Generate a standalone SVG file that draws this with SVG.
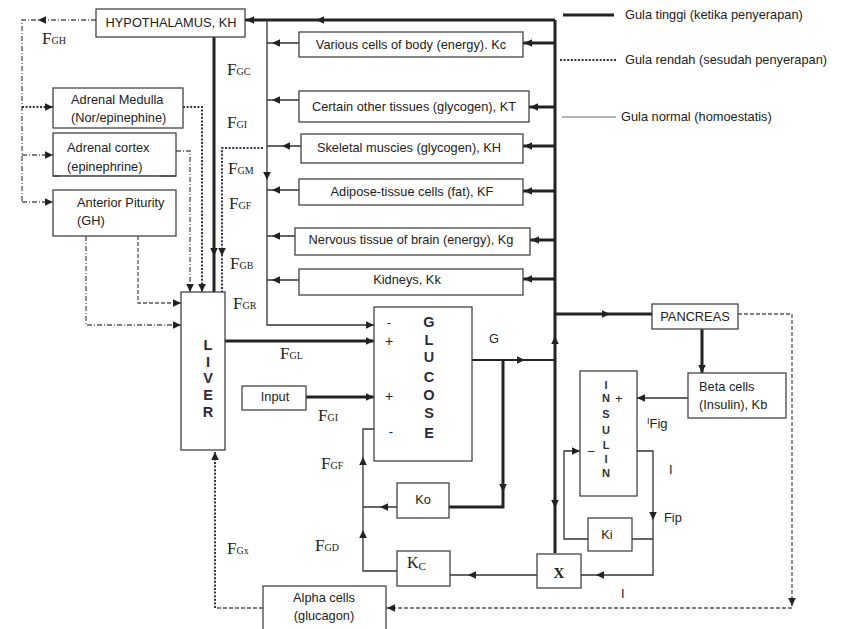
<svg xmlns="http://www.w3.org/2000/svg" width="845" height="629" viewBox="0 0 845 629">
<style>
.box{fill:#fff;stroke:#444;stroke-width:1.3}
.t{font-family:"Liberation Sans",Arial,sans-serif;font-size:12.8px;fill:#222}
.c{text-anchor:middle}
.big{font-family:"Liberation Sans",Arial,sans-serif;font-weight:bold;font-size:14.5px;fill:#2a2a3a;text-anchor:middle}
.ins{font-family:"Liberation Sans",Arial,sans-serif;font-weight:bold;font-size:11px;fill:#333;text-anchor:middle}
.f{font-family:"Liberation Serif","Times New Roman",serif;font-size:17px;fill:#222}
.s{font-size:10px}
.thick{stroke:#222;stroke-width:3;fill:none}
.med{stroke:#222;stroke-width:2;fill:none}
.thin{stroke:#333;stroke-width:1.3;fill:none}
.dot{stroke:#333;stroke-width:2;stroke-dasharray:2,1.6;fill:none}
.dotb{stroke:#335;stroke-width:2;stroke-dasharray:2,1.6;fill:none}
.dash{stroke:#555;stroke-width:1.3;stroke-dasharray:4,2;fill:none}
.dd{stroke:#555;stroke-width:1.3;stroke-dasharray:5,2,1,2;fill:none}
.gray{stroke:#999;stroke-width:1.5;fill:none}
</style>
<defs>
<path id="a" d="M0,0 L-8,-3.8 L-8,3.8 Z" fill="#222"/>
</defs>
<rect width="845" height="629" fill="#fff"/>

<g id="connectors">
<path class="thick" d="M555,20 H245 M555,20 V553"/>
<use href="#a" transform="translate(246,20) rotate(180)"/>
<use href="#a" transform="translate(316,20) rotate(180)"/>
<path class="thick" d="M555,43 H523 M555,107 H529 M555,146 H523 M555,191 H523 M555,240 H530 M555,279 H523"/>
<use href="#a" transform="translate(524,43) rotate(180)"/>
<use href="#a" transform="translate(530,107) rotate(180)"/>
<use href="#a" transform="translate(524,146) rotate(180)"/>
<use href="#a" transform="translate(524,191) rotate(180)"/>
<use href="#a" transform="translate(531,240) rotate(180)"/>
<use href="#a" transform="translate(524,279) rotate(180)"/>
<path class="thin" d="M267,20 V325 H374"/>
<use href="#a" transform="translate(374,325)"/>
<use href="#a" transform="translate(267,180) rotate(90)"/>
<path class="thin" d="M299,43 H267 M299,100 H267 M301,146 H267 M299,190 H267 M295,236 H267 M299,280 H267"/>
<use href="#a" transform="translate(272,43) rotate(180)"/>
<use href="#a" transform="translate(272,100) rotate(180)"/>
<use href="#a" transform="translate(282,146) rotate(180)"/>
<use href="#a" transform="translate(272,190) rotate(180)"/>
<use href="#a" transform="translate(272,236) rotate(180)"/>
<use href="#a" transform="translate(272,280) rotate(180)"/>
<path class="thick" d="M214,37 V292"/>
<use href="#a" transform="translate(214,256) rotate(90)"/>
<path class="dotb" d="M263,148 H222 V292"/>
<use href="#a" transform="translate(222,256) rotate(90)"/>
<path class="dot" d="M183,107 H202 V292"/>
<use href="#a" transform="translate(202,292) rotate(90)"/>
<path class="dd" d="M176,151 H190 V292"/>
<use href="#a" transform="translate(190,292) rotate(90)"/>
<path class="dash" d="M138,236 V303 H181"/>
<use href="#a" transform="translate(181,303)"/>
<path class="dd" d="M86,236 V325 H181"/>
<use href="#a" transform="translate(181,325)"/>
<path class="dd" d="M96,20 H22 V202 M22,155 H53 M22,202 H53"/>
<path class="dot" d="M22,107 H53"/>
<use href="#a" transform="translate(38,20) rotate(180)"/>
<use href="#a" transform="translate(53,107)"/>
<use href="#a" transform="translate(53,155)"/>
<use href="#a" transform="translate(53,202)"/>
<path class="thick" d="M225,341 H374 M306,397 H374"/>
<use href="#a" transform="translate(374,341)"/>
<use href="#a" transform="translate(374,397)"/>
<path class="med" d="M472,360 H555"/>
<use href="#a" transform="translate(525,360)"/>
<path class="thick" d="M503,360 V507 H449"/>
<use href="#a" transform="translate(503,492) rotate(90)"/>
<path class="thin" d="M397,507 H363 M397,571 H363 V429 H374"/>
<use href="#a" transform="translate(380,507) rotate(180)"/>
<use href="#a" transform="translate(363,530) rotate(-90)"/>
<use href="#a" transform="translate(363,457) rotate(-90)"/>
<path class="thin" d="M537,575 H450"/>
<use href="#a" transform="translate(468,575) rotate(180)"/>
<use href="#a" transform="translate(555,508) rotate(90)"/>
<use href="#a" transform="translate(555,336) rotate(-90)"/>
<path class="thick" d="M555,314 H652 M702,329 V373"/>
<use href="#a" transform="translate(610,314)"/>
<use href="#a" transform="translate(702,373) rotate(90)"/>
<path class="thin" d="M688,398 H637"/>
<use href="#a" transform="translate(637,398) rotate(180)"/>
<path class="thin" d="M637,451 H653 V575 H581 M632,539 H653 M588,539 H564 V451 H580"/>
<use href="#a" transform="translate(653,520) rotate(90)"/>
<use href="#a" transform="translate(596,575) rotate(180)"/>
<use href="#a" transform="translate(580,451)"/>
<path class="dash" d="M738,314 H792 V606 M792,608 H386 M263,608 H215"/>
<use href="#a" transform="translate(792,606) rotate(90)"/>
<use href="#a" transform="translate(387,608) rotate(180)"/>
<path class="dot" d="M215,608 V452"/>
<use href="#a" transform="translate(215,452) rotate(-90)"/>
</g>

<g id="legend">
<line class="thick" x1="563" y1="15" x2="614" y2="15"/>
<text class="t" x="625" y="19">Gula tinggi (ketika penyerapan)</text>
<line class="dot" x1="560" y1="60" x2="617" y2="60"/>
<text class="t" x="625" y="64">Gula rendah (sesudah penyerapan)</text>
<line class="gray" x1="562" y1="117" x2="616" y2="117"/>
<text class="t" x="621" y="121">Gula normal (homoestatis)</text>
</g>

<g id="hypothalamus"><rect class="box" x="96" y="9" width="149" height="28"/><text class="t c" x="171" y="27">HYPOTHALAMUS, KH</text></g>
<g id="various"><rect class="box" x="299" y="32" width="224" height="25"/><text class="t c" x="411" y="49">Various cells of body (energy). Kc</text></g>
<g id="certain"><rect class="box" x="299" y="91" width="230" height="31"/><text class="t c" x="414" y="111">Certain other tissues (glycogen), KT</text></g>
<g id="skeletal"><rect class="box" x="301" y="134" width="222" height="29"/><text class="t c" x="409" y="152">Skeletal muscies (glycogen), KH</text></g>
<g id="adipose"><rect class="box" x="299" y="179" width="224" height="26"/><text class="t c" x="412" y="196">Adipose-tissue cells (fat), KF</text></g>
<g id="nervous"><rect class="box" x="295" y="228" width="235" height="27"/><text class="t c" x="411" y="244">Nervous tissue of brain (energy), Kg</text></g>
<g id="kidneys"><rect class="box" x="299" y="269" width="224" height="26"/><text class="t c" x="407" y="284">Kidneys, Kk</text></g>
<g id="medulla"><rect class="box" x="53" y="88" width="130" height="40"/><text class="t" x="71" y="104">Adrenal Medulla</text><text class="t" x="71" y="122">(Nor/epinephine)</text></g>
<g id="cortex"><rect class="box" x="53" y="133" width="123" height="43"/><text class="t" x="67" y="152">Adrenal cortex</text><text class="t" x="67" y="171">(epinephrine)</text><rect x="60" y="175.4" width="100" height="3" fill="#fff"/><line x1="53" y1="176" x2="176" y2="176" stroke="#444" stroke-width="1.3"/></g>
<g id="anterior"><rect class="box" x="53" y="190" width="123" height="46"/><text class="t" x="77" y="207">Anterior Piturity</text><text class="t" x="77" y="225">(GH)</text></g>
<g id="liver"><rect class="box" x="181" y="292" width="44" height="158"/>
<text class="big" x="208" y="350">L</text><text class="big" x="208" y="367">I</text><text class="big" x="208" y="383">V</text><text class="big" x="208" y="400">E</text><text class="big" x="208" y="417">R</text></g>
<g id="glucose"><rect class="box" x="374" y="307" width="98" height="154"/>
<text class="big" x="429" y="327">G</text><text class="big" x="429" y="345">L</text><text class="big" x="429" y="362" style="fill:#334">U</text><text class="big" x="429" y="382">C</text><text class="big" x="429" y="400">O</text><text class="big" x="429" y="418">S</text><text class="big" x="429" y="438">E</text>
<text class="t c" x="389" y="327" style="font-size:13px">-</text><text class="t c" x="389" y="346" style="font-size:14px">+</text><text class="t c" x="389" y="401" style="font-size:14px">+</text><text class="t c" x="391" y="436" style="font-size:13px">-</text></g>
<g id="input"><rect class="box" x="242" y="386" width="64" height="24"/><text class="t c" x="275" y="401">Input</text></g>
<text class="t" x="489" y="343">G</text>
<g id="pancreas"><rect class="box" x="652" y="304" width="86" height="25"/><text class="t c" x="695" y="321">PANCREAS</text></g>
<g id="beta"><rect class="box" x="688" y="373" width="98" height="45"/><text class="t" x="699" y="391">Beta cells</text><text class="t" x="699" y="409">(Insulin), Kb</text></g>
<g id="insulin"><rect class="box" x="580" y="371" width="57" height="125"/>
<text class="ins" x="606" y="389">I</text><text class="ins" x="606" y="402">N</text><text class="ins" x="606" y="418">S</text><text class="ins" x="606" y="434">U</text><text class="ins" x="606" y="449">L</text><text class="ins" x="606" y="463">I</text><text class="ins" x="606" y="477">N</text>
<text class="t" x="615" y="403" style="font-size:13px">+</text><text class="t" x="588" y="455" style="font-size:12px">–</text></g>
<g id="ki"><rect class="box" x="588" y="518" width="44" height="33"/><text class="t c" x="607" y="539">Ki</text></g>
<g id="x"><rect class="box" x="537" y="554" width="44" height="34"/><text class="f" x="559" y="578" style="font-weight:bold;font-size:15px;text-anchor:middle">X</text></g>
<g id="ko"><rect class="box" x="397" y="483" width="52" height="35"/><text class="t c" x="423" y="504">Ko</text></g>
<g id="kc"><rect class="box" x="397" y="551" width="53" height="35"/><text class="f" x="407" y="568" style="font-size:16px">K<tspan dy="2" style="font-size:11px">C</tspan></text></g>
<g id="alpha"><rect class="box" x="263" y="586" width="123" height="50"/><text class="t c" x="324" y="602">Alpha cells</text><text class="t c" x="324" y="620">(glucagon)</text></g>

<g id="labels">
<text class="f" x="42" y="44">F<tspan class="s">GH</tspan></text>
<text class="f" x="227" y="75">F<tspan class="s">GC</tspan></text>
<text class="f" x="227" y="128">F<tspan class="s">GI</tspan></text>
<text class="f" x="228" y="174">F<tspan class="s">GM</tspan></text>
<text class="f" x="229" y="209">F<tspan class="s">GF</tspan></text>
<text class="f" x="230" y="269">F<tspan class="s">GB</tspan></text>
<text class="f" x="233" y="309">F<tspan class="s">GR</tspan></text>
<text class="f" x="280" y="359">F<tspan class="s">GL</tspan></text>
<text class="f" x="318" y="421">F<tspan class="s">GI</tspan></text>
<text class="f" x="321" y="469">F<tspan class="s">GF</tspan></text>
<text class="f" x="315" y="551">F<tspan class="s">GD</tspan></text>
<text class="f" x="227" y="554">F<tspan class="s">Gx</tspan></text>
<text class="t" x="647" y="424" style="font-size:9px">I<tspan dy="4" style="font-size:13px">Fig</tspan></text>
<text class="t" x="669" y="474">I</text>
<text class="t" x="664" y="522">Fip</text>
<text class="t" x="621" y="598">I</text>
</g>
</svg>
